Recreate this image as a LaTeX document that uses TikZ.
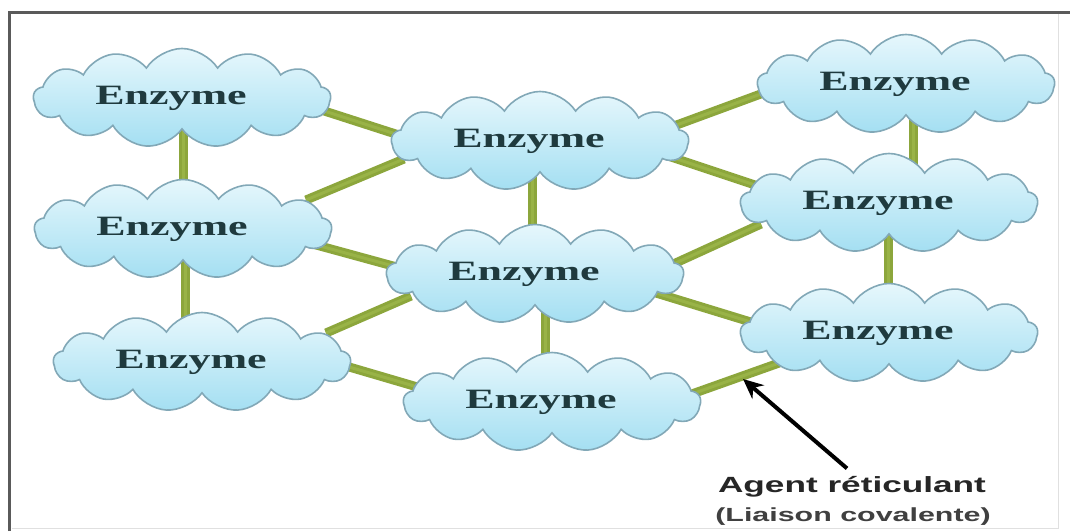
\documentclass[tikz,border=0pt]{standalone}
\usepackage{graphicx}
\usepackage{fontspec}
\setmainfont{Liberation Serif}
\newfontfamily\labelfont{Liberation Sans}
\usetikzlibrary{shapes.symbols,calc,backgrounds,arrows.meta}

\definecolor{cloudtop}{HTML}{E6F7FC}
\definecolor{cloudbot}{HTML}{A4DFF2}
\definecolor{cloudline}{HTML}{82A8B7}
\definecolor{enztext}{HTML}{1F3A3E}
\definecolor{bond}{HTML}{8CA63C}
\definecolor{bondlight}{HTML}{99B347}
\definecolor{framegray}{HTML}{5A5A5A}

\newcommand{\enzlabel}{\hspace*{-22pt}\scalebox{1.57}[1]{Enzyme}}

\begin{document}
\begin{tikzpicture}[x=1pt,y=-1pt,
  enzyme/.style={cloud, cloud puffs=13, cloud puff arc=115, cloud ignores aspect,
    minimum width=297pt, minimum height=99pt, inner sep=0pt,
    draw=cloudline, line width=1.6pt, top color=cloudtop, bottom color=cloudbot,
    text=enztext, font=\fontsize{28}{30}\selectfont\bfseries},
  bondline/.style={line width=9pt, draw=bond, line cap=butt,
    postaction={draw=bondlight, line width=3pt}},
  caption/.style={inner sep=0pt, text=black!85},
]
\useasboundingbox (0,0) rectangle (1070,531);
% page, frame
\begin{scope}[on background layer]
\fill[white] (0,0) rectangle (1070,531);
\end{scope}
\draw[framegray, line width=3pt] (9,531) -- (9,12) -- (1070,12);
\draw[black!12, line width=0.8pt] (1058,14) -- (1058,528) -- (12,528);

% enzymes
\node[enzyme] (n1) at (182,98)  {\enzlabel};
\node[enzyme] (n2) at (183,229) {\enzlabel};
\node[enzyme] (n3) at (202,362) {\enzlabel};
\node[enzyme] (n4) at (540,141) {\enzlabel};
\node[enzyme] (n5) at (535,274) {\enzlabel};
\node[enzyme] (n6) at (552,402) {\enzlabel};
\node[enzyme] (n7) at (906,84)  {\enzlabel};
\node[enzyme] (n8) at (889,203) {\enzlabel};
\node[enzyme] (n9) at (889,333) {\enzlabel};

% covalent bonds between enzymes
\begin{scope}[on background layer]
\draw[bondline] ($(n1)+(1,0)$)    -- ($(n2)+(0,0)$);
\draw[bondline] ($(n2)+(2,0)$)    -- ($(n3)+(-17,0)$);
\draw[bondline] ($(n4)+(-8,0)$)   -- ($(n5)+(-3,0)$);
\draw[bondline] ($(n5)+(10,0)$)   -- ($(n6)+(-7,0)$);
\draw[bondline] ($(n7)+(7,0)$)    -- ($(n8)+(24,0)$);
\draw[bondline] ($(n8)+(-1,0)$)   -- ($(n9)+(-1,0)$);
\draw[bondline] ($(n1)+(133,10)$) -- ($(n4)+(-135,-4)$);
\draw[bondline] ($(n2)+(123,-29)$)-- ($(n4)+(-136,18)$);
\draw[bondline] ($(n2)+(126,14)$) -- ($(n5)+(-131,-5)$);
\draw[bondline] ($(n3)+(124,-29)$)-- ($(n5)+(-124,22)$);
\draw[bondline] ($(n3)+(137,2)$)  -- ($(n6)+(-121,-11)$);
\draw[bondline] ($(n4)+(123,-11)$)-- ($(n7)+(-129,4)$);
\draw[bondline] ($(n4)+(116,11)$) -- ($(n8)+(-110,-10)$);
\draw[bondline] ($(n5)+(134,-8)$) -- ($(n8)+(-128,21)$);
\draw[bondline] ($(n5)+(108,15)$) -- ($(n9)+(-122,-6)$);
\draw[bondline] ($(n6)+(137,-7)$) -- ($(n9)+(-110,30)$);
\end{scope}

% caption and pointer to a cross-link
\node[caption, font=\labelfont\bfseries\fontsize{22}{24}\selectfont] (agent) at (852,487)
  {\scalebox{1.6}[1]{Agent réticulant}};
\node[caption, font=\labelfont\bfseries\fontsize{19}{20}\selectfont, text=black!75] (liaison) at (853,517)
  {\scalebox{1.6}[1]{(Liaison covalente)}};
\coordinate (link) at (743,379);
\draw[black, line width=4pt, -{Stealth[length=20pt,width=18pt]}]
  ($(agent.north)+(-5,-8)$) -- (link);
\end{tikzpicture}
\end{document}
